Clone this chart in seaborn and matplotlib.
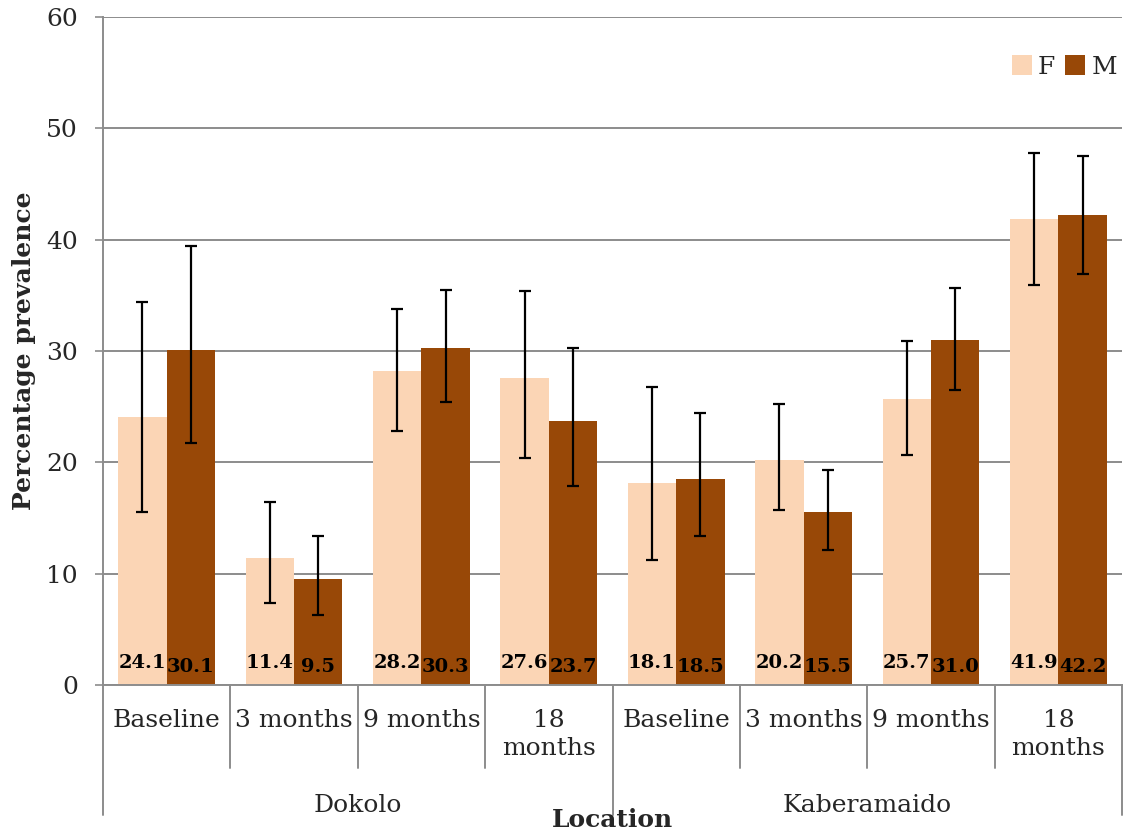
import matplotlib
matplotlib.use("Agg")
import matplotlib.pyplot as plt
import seaborn as sns
import pandas as pd
import numpy as np

# data
locations = ["Dokolo", "Kaberamaido"]
timepoints = ["Baseline", "3 months", "9 months", "18\nmonths"]
f_values = [24.1, 11.4, 28.2, 27.6, 18.1, 20.2, 25.7, 41.9]
m_values = [30.1, 9.5, 30.3, 23.7, 18.5, 15.5, 31.0, 42.2]
f_lower = [15.5, 7.4, 22.8, 20.4, 11.2, 15.7, 20.7, 35.9]
f_upper = [34.4, 16.4, 33.8, 35.4, 26.8, 25.2, 30.9, 47.8]
m_lower = [21.7, 6.3, 25.4, 17.9, 13.4, 12.1, 26.5, 36.9]
m_upper = [39.4, 13.4, 35.5, 30.3, 24.4, 19.3, 35.7, 47.5]

colors = {"F": "#FBD5B5", "M": "#984807"}
grid_color = "#8C8C8C"

sns.set_style("white")
plt.rcParams["font.family"] = ["DejaVu Serif"]

categories = [f"{loc}|{tp}" for loc in locations for tp in timepoints]
df = pd.DataFrame({
    "cat": categories * 2,
    "sex": ["F"] * len(f_values) + ["M"] * len(m_values),
    "value": f_values + m_values,
})

fig = plt.figure(figsize=(11.32, 8.34), dpi=100)
ax = fig.add_axes([103 / 1132, 1 - 685 / 834, 1019 / 1132, 668 / 834])

sns.barplot(data=df, x="cat", y="value", hue="sex", palette=colors,
            width=0.76, errorbar=None, ax=ax, zorder=2, linewidth=0,
            saturation=1)

# error bars and value labels from bar positions
err = {"F": (f_values, f_lower, f_upper), "M": (m_values, m_lower, m_upper)}
for cont, sex in zip(ax.containers, ["F", "M"]):
    vals, lo, hi = err[sex]
    xs = [p.get_x() + p.get_width() / 2 for p in cont.patches]
    yerr = [np.array(vals) - np.array(lo), np.array(hi) - np.array(vals)]
    ax.errorbar(xs, vals, yerr=yerr, fmt="none", ecolor="black",
                elinewidth=1.6, capsize=4, capthick=1.6, zorder=3)
    ylab = 2.0 if sex == "F" else 1.6
    for x, v in zip(xs, vals):
        ax.text(x, ylab, f"{v:.1f}", ha="center", va="center",
                fontsize=14, fontweight="heavy", color="black", zorder=4)

ax.set_xlim(-0.5, len(categories) - 0.5)
ax.set_ylim(0, 60)
ax.set_yticks(range(0, 61, 10))
ax.yaxis.grid(True, color=grid_color, linewidth=1.4)
ax.set_axisbelow(True)
for s in ["top", "right"]:
    ax.spines[s].set_visible(False)
for s in ["left", "bottom"]:
    ax.spines[s].set_color(grid_color)
    ax.spines[s].set_linewidth(1.4)
ax.tick_params(axis="y", direction="out", length=6, width=1.2, color=grid_color,
               pad=12, labelsize=18, left=True)
ax.set_xticks([])
ax.set_xlabel("")
ax.set_ylabel("Percentage prevalence", fontsize=18, fontweight="bold")
ax.yaxis.set_label_coords(-0.066, 0.5)

# multi-level category axis
trans = ax.get_xaxis_transform()
n = len(categories)
for i in range(n + 1):
    outer = i % len(timepoints) == 0
    y_end = -0.195 if outer else -0.124
    ax.plot([i - 0.5, i - 0.5], [0, y_end], color=grid_color, lw=1.4,
            transform=trans, clip_on=False)
for i, cat in enumerate(categories):
    ax.text(i, -0.036, cat.split("|")[1], ha="center", va="top", fontsize=18,
            transform=trans, linespacing=1.3)
for j, loc in enumerate(locations):
    ax.text(j * len(timepoints) + (len(timepoints) - 1) / 2, -0.18, loc,
            ha="center", va="center", fontsize=18, transform=trans)
ax.text((n - 1) / 2, -0.202, "Location", ha="center", va="center", fontsize=18,
        fontweight="bold", transform=trans, zorder=5)

leg = ax.legend(loc="upper right", bbox_to_anchor=(1.01, 0.965), ncol=2,
                frameon=False, fontsize=18, handlelength=0.8, handleheight=0.8,
                handletextpad=0.25, columnspacing=0.4, borderaxespad=0.2)

fig.savefig("out.png", dpi=100)
